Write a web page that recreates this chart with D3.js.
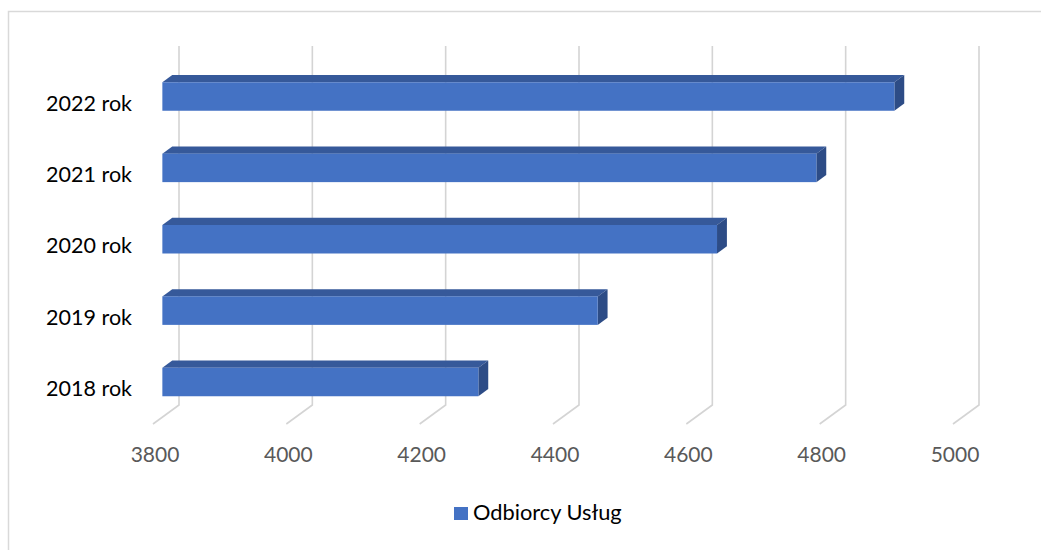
<!DOCTYPE html>
<html>
<head>
<meta charset="utf-8">
<script src="https://cdn.jsdelivr.net/npm/d3@7"></script>
<style>
  body { margin: 0; background: #fff; }
  text { font-family: Lato, "Open Sans", sans-serif; }
</style>
</head>
<body>
<div id="chart"></div>
<script>
// data
var categories = ["2022 rok", "2021 rok", "2020 rok", "2019 rok", "2018 rok"];
var values = [4898, 4781, 4632, 4453, 4274];
var ticks = [3800, 4000, 4200, 4400, 4600, 4800, 5000];
var seriesName = "Odbiorcy Usług";

(function() {
    var width = 1041,
        height = 550;

    var svg = d3.select("#chart")
        .append("svg")
        .attr("width", width)
        .attr("height", height);

    // chart frame
    svg.append("rect")
        .attr("x", 8.5)
        .attr("y", 11.5)
        .attr("width", 1100)
        .attr("height", 700)
        .attr("fill", "none")
        .attr("stroke", "#d9d9d9")
        .attr("stroke-width", 1.5);

    // x scale on the back wall
    var x = d3.scaleLinear().domain([3800, 5000]).range([179, 979]);
    var wallTop = 46,
        wallBottom = 405;

    // full depth offset (back -> front) and where the bars sit in it
    var depthX = -26,
        depthY = 19,
        barBack = 0.26,
        barFront = 0.64;

    // y centre of each bar's front face
    var y = d3.scalePoint().domain(categories).range([96.5, 382]);
    var barH = 28.5;

    // grid lines on back wall + floor
    var grid = svg.append("g");
    grid.selectAll("path")
        .data(ticks)
        .enter().append("path")
        .attr("d", function(d) {
            return "M" + x(d) + "," + wallTop +
                "L" + x(d) + "," + wallBottom +
                "L" + (x(d) + depthX) + "," + (wallBottom + depthY);
        })
        .attr("fill", "none")
        .attr("stroke", "#d4d4d4")
        .attr("stroke-width", 1.6);

    // tick labels under the front floor edge
    svg.append("g").selectAll("text")
        .data(ticks)
        .enter().append("text")
        .attr("x", function(d) { return x(d) + depthX + 2; })
        .attr("y", 462)
        .attr("text-anchor", "middle")
        .attr("fill", "#595959")
        .style("font-size", "21px")
        .text(function(d) { return d; });

    // 3d bars
    var fx = depthX * barFront,
        bx = depthX * barBack,
        dx = bx - fx,
        dy = -(barFront - barBack) * depthY;

    var bars = svg.append("g").selectAll("g")
        .data(categories)
        .enter().append("g");

    function x0() { return x(3800) + fx; }
    function x1(i) { return x(values[i]) + fx; }

    // top face
    bars.append("path")
        .attr("d", function(d, i) {
            var t = y(d) - barH / 2;
            return "M" + x0() + "," + t + "L" + (x0() + dx) + "," + (t + dy) +
                "L" + (x1(i) + dx) + "," + (t + dy) + "L" + x1(i) + "," + t + "Z";
        })
        .attr("fill", "#36599a");

    // right side face
    bars.append("path")
        .attr("d", function(d, i) {
            var t = y(d) - barH / 2;
            return "M" + x1(i) + "," + t + "L" + (x1(i) + dx) + "," + (t + dy) +
                "L" + (x1(i) + dx) + "," + (t + dy + barH) + "L" + x1(i) + "," + (t + barH) + "Z";
        })
        .attr("fill", "#2d4c86");

    // front face
    bars.append("rect")
        .attr("x", x0())
        .attr("y", function(d) { return y(d) - barH / 2; })
        .attr("width", function(d, i) { return x1(i) - x0(); })
        .attr("height", barH)
        .attr("fill", "#4472c4");

    // category labels
    svg.append("g").selectAll("text")
        .data(categories)
        .enter().append("text")
        .attr("x", 132)
        .attr("y", function(d) { return y(d) + 14; })
        .attr("text-anchor", "end")
        .attr("fill", "#000")
        .style("font-size", "21.5px")
        .text(function(d) { return d; });

    // legend
    var legend = svg.append("g");
    legend.append("rect")
        .attr("x", 454)
        .attr("y", 507)
        .attr("width", 14)
        .attr("height", 13)
        .attr("fill", "#4472c4");
    legend.append("text")
        .attr("x", 473)
        .attr("y", 520)
        .attr("fill", "#000")
        .style("font-size", "21.8px")
        .text(seriesName);
})();
</script>
</body>
</html>
